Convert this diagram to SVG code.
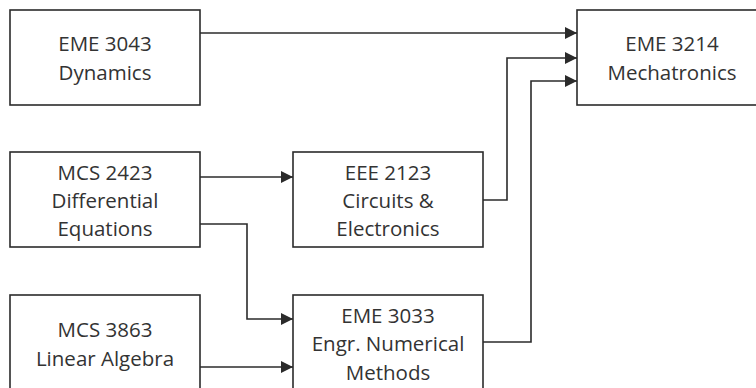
<svg xmlns="http://www.w3.org/2000/svg" width="756" height="388" viewBox="0 0 756 388">
<style>
.box{fill:#fff;stroke:#2b2b2b;stroke-width:1.6}
.t{font-family:"Open Sans","Noto Sans",sans-serif;font-size:20.5px;fill:#333;text-anchor:middle}
.c{fill:none;stroke:#2b2b2b;stroke-width:1.6}
</style>
<defs>
<marker id="ar" viewBox="0 0 10 10" refX="10" refY="5" markerWidth="12" markerHeight="12" markerUnits="userSpaceOnUse" orient="auto">
<path d="M0,0 L10,5 L0,10 z" fill="#2b2b2b"/>
</marker>
</defs>
<rect width="756" height="388" fill="#fff"/>
<g id="connectors">
<path class="c" d="M200,33 H577" marker-end="url(#ar)"/>
<path class="c" d="M483,200 H507 V58 H577" marker-end="url(#ar)"/>
<path class="c" d="M483,342 H531 V81 H577" marker-end="url(#ar)"/>
<path class="c" d="M200,177 H293" marker-end="url(#ar)"/>
<path class="c" d="M200,224 H247 V319 H293" marker-end="url(#ar)"/>
<path class="c" d="M200,367 H293" marker-end="url(#ar)"/>
</g>
<g id="eme3043">
<rect class="box" x="10" y="10" width="190" height="95"/>
<text class="t" x="105" y="51">EME 3043</text>
<text class="t" x="105" y="80">Dynamics</text>
</g>
<g id="eme3214">
<rect class="box" x="577" y="10" width="190" height="95"/>
<text class="t" x="672" y="51">EME 3214</text>
<text class="t" x="672" y="80">Mechatronics</text>
</g>
<g id="mcs2423">
<rect class="box" x="10" y="152" width="190" height="95"/>
<text class="t" x="105" y="180">MCS 2423</text>
<text class="t" x="105" y="208">Differential</text>
<text class="t" x="105" y="236">Equations</text>
</g>
<g id="eee2123">
<rect class="box" x="293" y="152" width="190" height="95"/>
<text class="t" x="388" y="180">EEE 2123</text>
<text class="t" x="388" y="208">Circuits &amp;</text>
<text class="t" x="388" y="236">Electronics</text>
</g>
<g id="mcs3863">
<rect class="box" x="10" y="295" width="190" height="95"/>
<text class="t" x="105" y="337">MCS 3863</text>
<text class="t" x="105" y="366">Linear Algebra</text>
</g>
<g id="eme3033">
<rect class="box" x="293" y="295" width="190" height="95"/>
<text class="t" x="388" y="323">EME 3033</text>
<text class="t" x="388" y="351">Engr. Numerical</text>
<text class="t" x="388" y="380">Methods</text>
</g>
</svg>
